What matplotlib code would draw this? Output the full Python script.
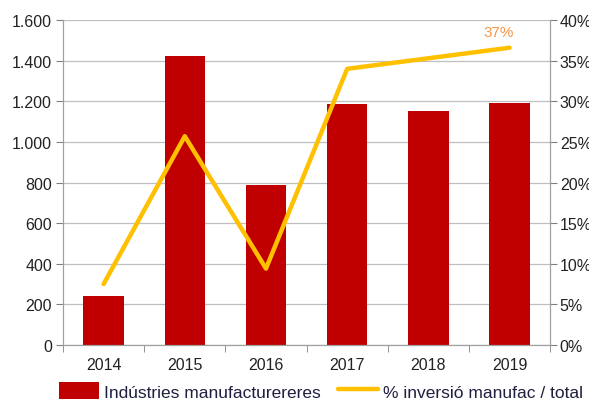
import matplotlib.pyplot as plt
import numpy as np
from matplotlib.ticker import FuncFormatter, MultipleLocator

plt.rcParams['font.family'] = ['Liberation Sans', 'DejaVu Sans']

years = ['2014', '2015', '2016', '2017', '2018', '2019']
inversio = [241, 1423, 788, 1186, 1152, 1191]
percent = [7.5, 25.7, 9.4, 34.0, 35.3, 36.6]

bar_color = '#C00000'
line_color = '#FFC000'
grid_color = '#BFBFBF'

fig = plt.figure(figsize=(5.89, 4.06), dpi=100)
ax = fig.add_axes([0.107, 0.148, 0.827, 0.800])
ax2 = ax.twinx()

x = np.arange(len(years))
bars = ax.bar(x, inversio, width=0.5, color=bar_color, zorder=2,
              label='Indústries manufacturereres')
line, = ax2.plot(x, percent, color=line_color, lw=3.2, zorder=3,
                 solid_capstyle='round', label='% inversió manufac / total')
ax2.annotate('37%', (x[-1], percent[-1]), xytext=(-8, 6), textcoords='offset points',
             ha='center', va='bottom', color='#F79646', fontsize=11)

ax.set_xlim(-0.5, len(years) - 0.5)
ax.set_ylim(0, 1600)
ax2.set_ylim(0, 40)
ax.yaxis.set_major_locator(MultipleLocator(200))
ax2.yaxis.set_major_locator(MultipleLocator(5))
ax.yaxis.set_major_formatter(FuncFormatter(lambda v, p: f'{int(v):,}'.replace(',', '.')))
ax2.yaxis.set_major_formatter(FuncFormatter(lambda v, p: f'{int(v)}%'))

ax.set_xticks(x)
ax.set_xticklabels(years)
ax.set_xticks(np.arange(-0.5, len(years)), minor=True)
ax.tick_params(axis='x', which='major', length=0, pad=9, labelsize=11.5, colors='#222222')
ax.tick_params(axis='x', which='minor', length=5, color='#808080')
ax.tick_params(axis='y', length=5, color='#808080', labelsize=11.5, colors='#222222', pad=3)
ax2.tick_params(axis='y', length=5, color='#808080', labelsize=11.5, colors='#222222', pad=2)

ax.grid(axis='y', color=grid_color, lw=0.9, zorder=0)
ax.set_axisbelow(True)
for a in (ax, ax2):
    a.spines['top'].set_visible(False)
    for s in ('left', 'right', 'bottom'):
        a.spines[s].set_color('#A0A0A0')

fig.legend(handles=[bars, line], loc='lower center', bbox_to_anchor=(0.545, -0.025),
           ncol=2, frameon=False, fontsize=12.5, handlelength=2.3, handleheight=1.1,
           columnspacing=1.0, handletextpad=0.3, labelcolor='#1F1F3F')

fig.savefig('out.png', dpi=100)
